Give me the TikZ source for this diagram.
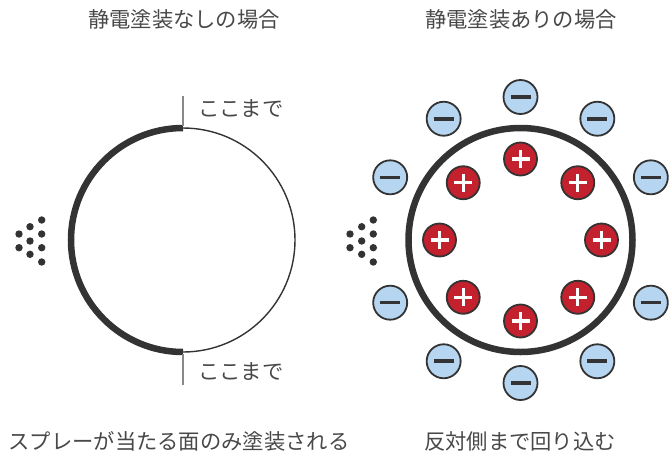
\documentclass[tikz,border=0pt]{standalone}
\usetikzlibrary{calc}
\usepackage{fontspec}
\setmainfont{Noto Sans CJK JP}
\begin{document}
\begin{tikzpicture}[x=1pt,y=-1pt,
  txt/.style={text=textgray,font=\fontsize{21.3}{24}\selectfont,inner sep=0pt},
  dot/.style={circle,fill=dotc,inner sep=0pt,minimum size=7.4pt},
  pluscharge/.style={circle,draw=edge,line width=1.8pt,fill=redc,minimum size=33pt,inner sep=0pt},
  minuscharge/.style={circle,draw=edge,line width=1.8pt,fill=bluec,minimum size=34pt,inner sep=0pt},
]
\definecolor{textgray}{HTML}{484848}
\definecolor{dotc}{HTML}{333333}
\definecolor{edge}{HTML}{333333}
\definecolor{redc}{HTML}{C4212E}
\definecolor{bluec}{HTML}{B5D5F0}
\definecolor{linegray}{HTML}{888888}
\useasboundingbox (0,0) rectangle (672,459);

% titles
\node[txt] (t1) at (184,19) {静電塗装なしの場合};
\node[txt] (t2) at (521,19) {静電塗装ありの場合};
\node[txt] (b1) at (179,441) {スプレーが当たる面のみ塗装される};
\node[txt] (b2) at (520,441) {反対側まで回り込む};

% left circle
\coordinate (lc) at (183,240);
\draw[line width=1.4pt,draw=edge] (lc) circle[radius=112];
\draw[line width=6.5pt,draw=edge] (183,128) arc[start angle=-90,end angle=-270,radius=112];
\coordinate (ltop) at (183,96);
\coordinate (lbot) at (183,385);
\draw[line width=1.3pt,draw=linegray] (ltop) -- (183,126);
\draw[line width=1.3pt,draw=linegray] (183,354) -- (lbot);
\node[txt,anchor=west] (k1) at (198,109) {ここまで};
\node[txt,anchor=west] (k2) at (198,372) {ここまで};

% spray dots left
\foreach \i/\x/\y in {1/41.7/220,2/30/226.7,3/19/234,4/41.7/234,5/30/241,6/19/247.7,7/41.7/247.7,8/30/254.3,9/41.7/262}
  \node[dot] (ld\i) at (\x,\y) {};
% spray dots right
\foreach \i/\x/\y in {1/373.3/220,2/361.7/226.7,3/350/234,4/373.3/234,5/361.7/241,6/350/247.7,7/373.3/247.7,8/361.7/254.3,9/373.3/262}
  \node[dot] (rd\i) at (\x,\y) {};

% right circle
\coordinate (rc) at (520.5,240);
\draw[line width=6.5pt,draw=edge] (rc) circle[radius=112];

% plus charges
\foreach \a [count=\i] in {90,45,0,-45,-90,-135,180,135}{
  \node[pluscharge] (p\i) at ($(rc)+(\a:81 and -81)$) {};
  \draw[white,line width=3.2pt] ($(p\i)+(-9,0)$) -- ($(p\i)+(9,0)$);
  \draw[white,line width=3.2pt] ($(p\i)+(0,-9)$) -- ($(p\i)+(0,9)$);
}
% minus charges
\foreach \a [count=\i] in {90,58,26,-26,-58,-90,-122,-154,154,122}{
  \node[minuscharge] (m\i) at ($(rc)+(\a:145 and -143)$) {};
  \draw[edge,line width=3.6pt] ($(m\i)+(-10,0)$) -- ($(m\i)+(10,0)$);
}
\end{tikzpicture}
\end{document}
